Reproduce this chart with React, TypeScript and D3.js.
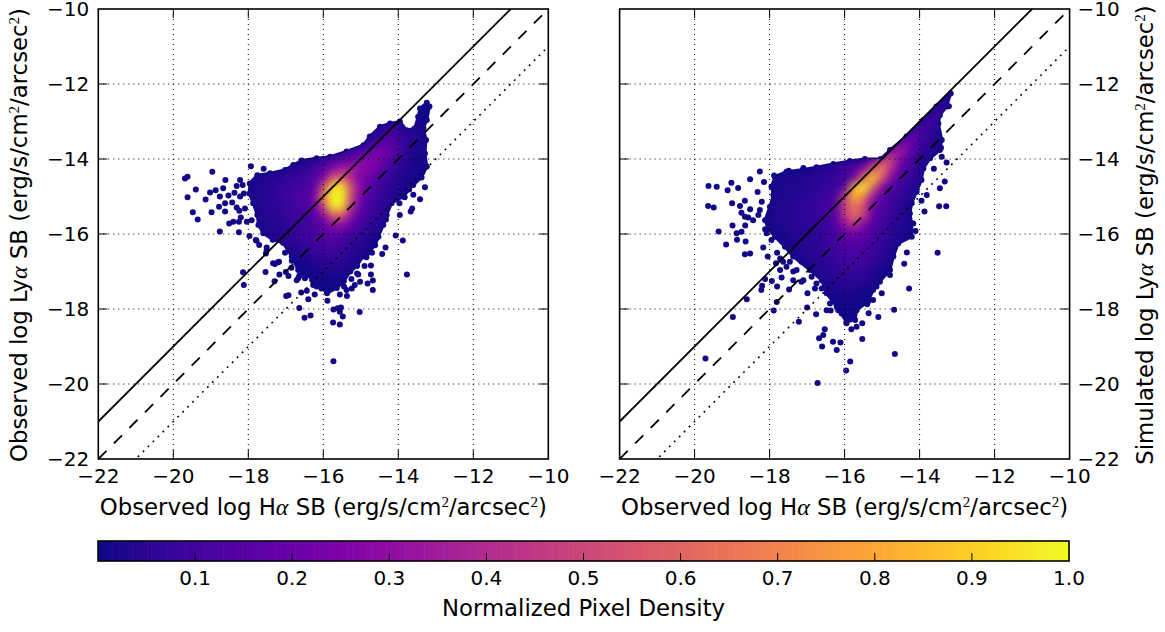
import React from "react";
import * as d3 from "d3";

const axisTicks = [-22, -20, -18, -16, -14, -12, -10];
const diagonalOffsets = [1, 0, -1];
const colorbarTicks = [0.1, 0.2, 0.3, 0.4, 0.5, 0.6, 0.7, 0.8, 0.9, 1.0];
const densityColumns = [-18, -17.75, -17.5, -17.25, -17, -16.75, -16.5, -16.25, -16, -15.75, -15.5, -15.25, -15, -14.75, -14.5, -14.25, -14, -13.75, -13.5, -13.25];

const leftRowsY = [-13, -13.25, -13.5, -13.75, -14, -14.25, -14.5, -14.75, -15, -15.25, -15.5, -15.75, -16, -16.25, -16.5, -16.75, -17];
const leftDensity = [
  [0,0,0,0,0,0,0,0,0,0,0,0,0,0,0,5,4,0,0,0],
  [0,0,0,0,0,0,0,0,0,0,0,0,0,0,5,10,8,4,3,2],
  [0,0,0,0,0,0,0,0,0,0,0,0,0,5,12,16,12,5,3,2],
  [0,0,0,0,0,0,0,0,0,0,3,6,10,16,22,20,12,5,2,2],
  [0,0,0,0,0,0,0,4,6,9,15,20,25,28,25,16,9,4,2,2],
  [0,0,0,0,3,4,6,9,16,28,35,35,30,26,18,10,6,3,2,0],
  [0,3,4,5,7,8,10,14,26,55,60,38,26,20,12,7,4,2,0,0],
  [0,3,4,6,8,10,11,14,50,95,95,52,26,16,9,5,3,2,0,0],
  [2,3,5,7,9,12,14,22,68,100,100,50,22,13,8,4,3,2,0,0],
  [0,3,5,6,8,10,12,18,50,98,95,42,18,11,7,3,2,0,0,0],
  [0,3,4,5,7,9,10,14,30,58,56,28,14,9,5,2,0,0,0,0],
  [0,2,3,4,6,8,9,12,18,28,30,18,11,7,3,0,0,0,0,0],
  [0,0,3,4,5,7,9,11,15,18,14,10,7,4,2,0,0,0,0,0],
  [0,0,0,3,4,5,7,9,11,12,10,7,4,2,0,0,0,0,0,0],
  [0,0,0,0,0,3,5,7,8,9,7,5,3,0,0,0,0,0,0,0],
  [0,0,0,0,0,0,0,4,5,6,5,3,2,0,0,0,0,0,0,0],
  [0,0,0,0,0,0,0,0,3,3,3,0,0,0,0,0,0,0,0,0],
];

const rightRowsY = [-12.5, -12.75, -13, -13.25, -13.5, -13.75, -14, -14.25, -14.5, -14.75, -15, -15.25, -15.5, -15.75, -16, -16.25, -16.5, -16.75, -17, -17.25, -17.5];
const rightDensity = [
  [0,0,0,0,0,0,0,0,0,0,0,0,0,0,0,0,0,0,4,6],
  [0,0,0,0,0,0,0,0,0,0,0,0,0,0,0,0,0,5,8,4],
  [0,0,0,0,0,0,0,0,0,0,0,0,0,0,0,0,6,10,5,0],
  [0,0,0,0,0,0,0,0,0,0,0,0,0,0,0,8,14,8,3,0],
  [0,0,0,0,0,0,0,0,0,0,0,0,0,0,14,22,12,5,3,0],
  [0,0,0,0,0,0,0,0,0,0,0,0,0,28,35,20,8,4,2,0],
  [0,0,0,0,0,0,0,0,0,0,0,18,45,48,26,12,6,3,0,0],
  [0,0,0,0,0,3,4,6,10,16,28,52,68,40,18,9,4,0,0,0],
  [0,2,3,3,4,5,6,8,10,18,60,92,58,26,13,7,4,2,0,0],
  [0,2,3,3,4,5,7,9,14,82,100,62,26,14,9,5,3,0,0,0],
  [0,3,3,4,6,7,9,11,45,85,70,32,16,10,6,4,2,0,0,0],
  [2,3,4,5,6,8,10,16,46,64,52,22,13,9,5,2,0,0,0,0],
  [2,3,4,5,6,7,9,15,44,65,48,20,12,8,4,2,0,0,0,0],
  [2,3,4,5,6,7,9,14,30,40,26,15,10,6,3,2,0,0,0,0],
  [0,2,3,4,5,6,8,11,18,22,18,12,9,5,3,2,0,0,0,0],
  [0,0,2,3,4,5,7,10,14,15,13,10,7,4,2,0,0,0,0,0],
  [0,0,0,3,4,5,7,9,11,12,11,8,5,3,0,0,0,0,0,0],
  [0,0,0,0,3,4,5,7,9,10,9,7,4,2,0,0,0,0,0,0],
  [0,0,0,0,0,3,5,6,7,7,6,3,0,0,0,0,0,0,0,0],
  [0,0,0,0,0,0,3,4,5,5,5,3,0,0,0,0,0,0,0,0],
  [0,0,0,0,0,0,0,3,4,3,0,0,0,0,0,0,0,0,0,0],
];

const leftOutline: number[][] = [[-13.24,-12.5],[-13.17,-12.6],[-13.24,-12.96],[-13.33,-13.18],[-13.26,-13.49],[-13.29,-13.85],[-13.24,-14.2],[-13.38,-14.49],[-13.6,-14.69],[-13.87,-15],[-14.18,-15.18],[-14.31,-15.49],[-14.4,-15.76],[-14.53,-16.07],[-14.62,-16.3],[-14.8,-16.5],[-14.95,-16.6],[-15.1,-16.85],[-15.28,-17],[-15.45,-17.25],[-15.64,-17.44],[-15.9,-17.58],[-16.17,-17.3],[-16.4,-17.1],[-16.67,-16.96],[-16.84,-16.6],[-17.07,-16.24],[-17.35,-16.15],[-17.6,-15.98],[-17.73,-15.76],[-17.76,-15.49],[-17.87,-15.18],[-17.97,-14.92],[-17.96,-14.65],[-17.76,-14.43],[-17.42,-14.38],[-17.02,-14.29],[-16.8,-14.16],[-16.58,-14.04],[-16.18,-13.98],[-15.82,-13.94],[-15.38,-13.8],[-14.93,-13.63],[-14.76,-13.4],[-14.49,-13.14],[-14.22,-13.05],[-13.96,-13],[-13.78,-13.23],[-13.56,-13.18],[-13.47,-12.87],[-13.42,-12.65]];

const rightOutline: number[][] = [[-13.17,-12.25],[-13.28,-12.6],[-13.46,-12.83],[-13.5,-13.05],[-13.41,-13.49],[-13.46,-13.76],[-13.72,-13.98],[-13.9,-14.25],[-13.95,-14.56],[-14.08,-14.87],[-14.21,-15.18],[-14.26,-15.45],[-14.21,-15.72],[-14.21,-16.07],[-14.57,-16.25],[-14.7,-16.6],[-14.79,-16.96],[-15.06,-17.27],[-15.24,-17.49],[-15.37,-17.8],[-15.68,-18.03],[-15.72,-18.29],[-15.95,-18.34],[-16.21,-17.94],[-16.48,-17.58],[-16.61,-17.23],[-16.92,-16.96],[-17.37,-16.6],[-17.59,-16.34],[-17.86,-16.07],[-18.04,-15.85],[-18.12,-15.63],[-17.99,-15.27],[-17.9,-14.96],[-17.95,-14.74],[-17.86,-14.47],[-17.55,-14.34],[-17.1,-14.28],[-16.75,-14.22],[-16.3,-14.13],[-15.86,-14.05],[-15.46,-14],[-15.04,-14],[-14.79,-13.76],[-14.35,-13.4],[-13.9,-12.96],[-13.55,-12.6]];

const leftPoints: number[][] = [[-19.69,-14.52],[-19.62,-14.47],[-18.96,-14.34],[-17.93,-14.19],[-17.59,-14.26],[-18.61,-14.56],[-19.4,-14.81],[-19.62,-15.02],[-19.14,-15.08],[-19.02,-14.89],[-18.87,-14.83],[-18.67,-14.78],[-18.76,-15],[-18.53,-14.97],[-18.37,-14.9],[-18.31,-14.72],[-18.22,-14.56],[-18.15,-14.69],[-18.22,-15],[-18.12,-14.92],[-18.43,-15.16],[-18.62,-15.18],[-18.78,-15.27],[-18.62,-15.4],[-18.31,-15.29],[-18.24,-15.38],[-18.09,-15.32],[-18.98,-15.42],[-19.48,-15.42],[-19.35,-15.61],[-18.51,-15.72],[-18.4,-15.67],[-18.25,-15.67],[-18.2,-15.56],[-18.04,-15.67],[-17.91,-15.63],[-18.76,-15.93],[-18.25,-15.95],[-17.97,-16.05],[-17.8,-16.16],[-17.71,-16.29],[-17.51,-16.36],[-17.53,-16.52],[-18.14,-17.02],[-18.12,-17.36],[-17.54,-17.01],[-17.29,-16.8],[-17.18,-16.74],[-17.17,-17.08],[-17.3,-17.26],[-17,-17.01],[-16.93,-17.12],[-16.93,-17.63],[-16.99,-17.65],[-16.64,-17.97],[-16.5,-18.23],[-16.34,-18.17],[-16.59,-17.56],[-16.44,-17.51],[-16.4,-17.74],[-16.23,-17.61],[-15.89,-17.78],[-16.71,-17.23],[-16.64,-17.11],[-16.49,-17.18],[-16.27,-17.36],[-16.18,-17.4],[-15.73,-18.01],[-15.62,-17.98],[-15.53,-17.96],[-15.56,-18.07],[-15.48,-18.2],[-15.74,-18.36],[-15.56,-18.41],[-15.73,-19.39],[-15.03,-18.08],[-15.37,-17.65],[-15.56,-17.61],[-15.38,-17.49],[-15.24,-17.45],[-15.16,-17.36],[-15.02,-17.27],[-14.82,-17.32],[-14.68,-17.24],[-14.68,-17.49],[-14.73,-17.08],[-15.07,-17.08],[-14.73,-16.84],[-14.43,-16.53],[-14.34,-16.36],[-14.07,-16.04],[-13.88,-16.17],[-13.77,-17.08],[-14.33,-15.61],[-13.96,-15.49],[-13.67,-15.4],[-13.63,-15.32],[-13.42,-15.07],[-13.29,-14.75],[-13.6,-14.95],[-13.83,-15.02],[-13.97,-15.18],[-13.71,-14.81],[-13.92,-14.78],[-13.36,-14.34],[-13.51,-14.47],[-13.73,-14.6],[-13.64,-14.65],[-17.78,-16.18],[-17.51,-16.43],[-17.21,-16.75],[-17.34,-16.78],[-17.02,-16.5],[-16.84,-16.71],[-16.67,-17.18],[-16.85,-16.9],[-16.55,-17.05],[-16.3,-17.22],[-16.05,-17.45],[-14.9,-16.85],[-15.1,-17.05],[-15.25,-17.2],[-14.85,-16.62],[-14.7,-16.5],[-15.45,-17.4]];

const rightPoints: number[][] = [[-19.63,-14.72],[-19.41,-14.74],[-19.02,-14.63],[-19.12,-14.83],[-18.84,-14.77],[-18.52,-14.54],[-18.26,-14.33],[-18.15,-14.61],[-18.32,-14.88],[-17.88,-14.44],[-17.49,-14.31],[-17.1,-14.24],[-19.64,-15.25],[-19.49,-15.29],[-19,-15.18],[-18.79,-15.25],[-18.66,-15.11],[-18.21,-15.14],[-18.52,-15.34],[-18.75,-15.43],[-18.66,-15.54],[-18.57,-15.56],[-18.3,-15.49],[-18.26,-15.36],[-18.44,-15.63],[-18.99,-15.77],[-18.65,-15.77],[-18.75,-15.94],[-18.88,-15.98],[-19.36,-15.93],[-18.87,-16.15],[-19.16,-16.28],[-18.64,-16.2],[-18.17,-16.36],[-18.66,-16.54],[-18.52,-16.52],[-18.05,-16.6],[-18.12,-15.87],[-18.08,-15.98],[-17.95,-16.16],[-17.8,-16.5],[-17.83,-16.78],[-17.72,-16.96],[-17.68,-17.16],[-17.94,-17.25],[-18.12,-17.2],[-18.2,-17.38],[-18.22,-17.49],[-17.8,-17.4],[-17.48,-17.48],[-17.37,-17.23],[-17.15,-17.27],[-16.99,-17.58],[-16.79,-17.45],[-18.61,-17.74],[-18.98,-18.21],[-17.81,-17.81],[-17.89,-18.04],[-17,-17.96],[-17.22,-18.34],[-16.76,-18.14],[-16.48,-18.03],[-16.37,-18.04],[-16,-17.94],[-15.99,-18.2],[-15.95,-18.38],[-15.82,-18.54],[-15.68,-18.47],[-15.53,-18.38],[-15.53,-18.8],[-16.53,-18.54],[-16.57,-18.69],[-16.68,-18.78],[-16.6,-19],[-16.31,-18.87],[-16.11,-18.89],[-16.21,-19.09],[-19.71,-19.32],[-15.85,-19.4],[-15.96,-19.64],[-16.72,-19.97],[-14.66,-19.2],[-14.28,-17.45],[-14.68,-18.02],[-15.1,-18.21],[-15.36,-18.11],[-15.4,-17.87],[-15.24,-17.76],[-15.15,-17.4],[-14.79,-17.09],[-14.41,-16.79],[-14.34,-16.49],[-13.52,-16.5],[-13.87,-15.4],[-13.48,-15.26],[-13.29,-15.26],[-13.81,-14.96],[-13.46,-14.78],[-13.33,-14.6],[-13.95,-15.11],[-14.17,-15.72],[-14.11,-15.92],[-14.44,-16.03],[-13.28,-14.09],[-13.41,-13.94],[-13.62,-14.26],[-13.43,-13.7],[-13.22,-12.59],[-13.53,-12.92],[-14.79,-16.69],[-14.92,-16.83],[-15.01,-17.58],[-15.32,-17.56],[-17.28,-16.96],[-17.15,-16.74],[-17.01,-16.83],[-16.88,-17.14],[-16.75,-17.32],[-16.61,-17.45],[-17.46,-16.74],[-17.55,-16.87],[-17.1,-17.23],[-17.37,-17],[-16.3,-17.72],[-16.39,-17.85],[-16.17,-18.03],[-16.08,-18.12],[-17.72,-16.65],[-17.64,-16.74]];

const FONT = "'DejaVu Sans', sans-serif";
const SERIF = "'Liberation Serif', serif";
const TOP = 9, BOTTOM = 459, TICK_FS = 20, LABEL_FS = 22.8, TICK_LEN = 9;
const y = d3.scaleLinear().domain([-22, -10]).range([BOTTOM, TOP]);
const lowColor = d3.interpolatePlasma(0.01);
const fmt = (v: number) => (v < 0 ? "\u2212" + Math.abs(v) : String(v));
const dashFor = (o: number) => (o === 0 ? "11.5 10.5" : o < 0 ? "1.8 5.2" : undefined);

function LabelText({ first }: { first: string }) {
  return (
    <>
      {first}
      <tspan fontFamily={SERIF} fontStyle="italic" fontSize={24}>{"\u03b1"}</tspan>
      {" SB (erg/s/cm"}
      <tspan fontFamily={SERIF} fontSize={15} dy={-8}>2</tspan>
      <tspan dy={8}>/arcsec</tspan>
      <tspan fontFamily={SERIF} fontSize={15} dy={-8}>2</tspan>
      <tspan dy={8}>)</tspan>
    </>
  );
}

function Panel({ id, left, rows, matrix, outline, points, yOnRight, yTitle }: any) {
  const right = left + 450;
  const x = d3.scaleLinear().domain([-22, -10]).range([left, right]);
  const cellW = x(-15.75) - x(-16);
  const cellH = y(-16.25) - y(-16);
  const outlinePath = d3.line().x((d: any) => x(d[0])).y((d: any) => y(d[1])).curve(d3.curveLinearClosed)(outline) || "";
  const titleX = yOnRight ? 1147 : 21;
  const midY = (TOP + BOTTOM) / 2 + 1;
  return (
    <g>
      <defs>
        <clipPath id={id + "-axes"}><rect x={left} y={TOP} width={right - left} height={BOTTOM - TOP} /></clipPath>
        <clipPath id={id + "-body"}><path d={outlinePath} /></clipPath>
      </defs>
      <path d={outlinePath} fill={lowColor} stroke={lowColor} strokeWidth={3} strokeLinejoin="round" />
      {outline.map((p: number[], i: number) => (
        <circle key={"o" + i} cx={x(p[0])} cy={y(p[1])} r={3} fill={lowColor} />
      ))}
      {points.map((p: number[], i: number) => (
        <circle key={"p" + i} cx={x(p[0])} cy={y(p[1])} r={3} fill={lowColor} />
      ))}
      <g clipPath={`url(#${id}-body)`}>
        <g filter="url(#soft)">
          {matrix.map((row: number[], r: number) =>
            row.map((v: number, c: number) =>
              v > 0 ? (
                <rect key={r + "-" + c} x={x(densityColumns[c]) - cellW / 2} y={y(rows[r]) - cellH / 2} width={cellW + 0.5} height={cellH + 0.5} fill={d3.interpolatePlasma(v / 100)} />
              ) : null
            )
          )}
        </g>
      </g>
      {axisTicks.slice(1, -1).map((t) => (
        <g key={t} stroke="#000" strokeWidth={1} strokeDasharray="1 4">
          <line x1={x(t)} x2={x(t)} y1={TOP} y2={BOTTOM} />
          <line x1={left} x2={right} y1={y(t)} y2={y(t)} />
        </g>
      ))}
      <g clipPath={`url(#${id}-axes)`}>
        {diagonalOffsets.map((o) => (
          <line key={o} x1={x(-22)} y1={y(-22 + o)} x2={x(-10)} y2={y(-10 + o)} stroke="#000" strokeWidth={o < 0 ? 1.6 : 1.8} strokeDasharray={dashFor(o)} />
        ))}
      </g>
      {axisTicks.slice(1, -1).map((t) => (
        <g key={"t" + t} stroke="#000" strokeWidth={1}>
          <line x1={x(t)} x2={x(t)} y1={BOTTOM} y2={BOTTOM - TICK_LEN} />
          <line x1={x(t)} x2={x(t)} y1={TOP} y2={TOP + TICK_LEN} />
          <line x1={left} x2={left + TICK_LEN} y1={y(t)} y2={y(t)} />
          <line x1={right} x2={right - TICK_LEN} y1={y(t)} y2={y(t)} />
        </g>
      ))}
      <rect x={left} y={TOP} width={right - left} height={BOTTOM - TOP} fill="none" stroke="#000" strokeWidth={1.6} />
      <g fontFamily={FONT} fontSize={TICK_FS} fill="#000">
        {axisTicks.map((t) => (
          <text key={"x" + t} x={x(t)} y={483} textAnchor="middle">{fmt(t)}</text>
        ))}
        {axisTicks.map((t) => (
          <text key={"y" + t} x={yOnRight ? right + 8 : left - 9} y={y(t) + 6.5} textAnchor={yOnRight ? "start" : "end"}>{fmt(t)}</text>
        ))}
      </g>
      <text x={(left + right) / 2} y={515} textAnchor="middle" fontFamily={FONT} fontSize={LABEL_FS} fill="#000">
        <LabelText first={"Observed log H"} />
      </text>
      <text transform={`translate(${titleX},${midY}) rotate(-90)`} textAnchor="middle" y={6} fontFamily={FONT} fontSize={LABEL_FS} fill="#000">
        <LabelText first={yTitle} />
      </text>
    </g>
  );
}

function Colorbar() {
  const cb = d3.scaleLinear().domain([0, 1]).range([98, 1069]);
  const steps = d3.range(0, 1, 1 / 256);
  return (
    <g>
      {steps.map((s) => (
        <rect key={s} x={cb(s)} y={541} width={cb(1 / 256) - cb(0) + 0.6} height={20} fill={d3.interpolatePlasma(s)} />
      ))}
      <rect x={98} y={541} width={971} height={20} fill="none" stroke="#000" strokeWidth={1.6} />
      {colorbarTicks.slice(0, -1).map((t) => (
        <line key={t} x1={cb(t)} x2={cb(t)} y1={561} y2={553} stroke="#000" strokeWidth={1} />
      ))}
      {colorbarTicks.map((t) => (
        <text key={"l" + t} x={cb(t)} y={585} textAnchor="middle" fontFamily={FONT} fontSize={TICK_FS} fill="#000">{t.toFixed(1)}</text>
      ))}
      <text x={583.5} y={616} textAnchor="middle" fontFamily={FONT} fontSize={LABEL_FS} fill="#000">Normalized Pixel Density</text>
    </g>
  );
}

export default function App() {
  return (
    <svg width={1165} height={632} style={{ position: "absolute", left: 0, top: 0, background: "#fff" }}>
      <defs>
        <filter id="soft" filterUnits="userSpaceOnUse" x={0} y={0} width={1165} height={632} colorInterpolationFilters="sRGB">
          <feGaussianBlur stdDeviation={4} />
        </filter>
      </defs>
      <Panel id="left" left={98.3} rows={leftRowsY} matrix={leftDensity} outline={leftOutline} points={leftPoints} yOnRight={false} yTitle={"Observed log Ly"} />
      <Panel id="right" left={619.6} rows={rightRowsY} matrix={rightDensity} outline={rightOutline} points={rightPoints} yOnRight={true} yTitle={"Simulated log Ly"} />
      <Colorbar />
    </svg>
  );
}
